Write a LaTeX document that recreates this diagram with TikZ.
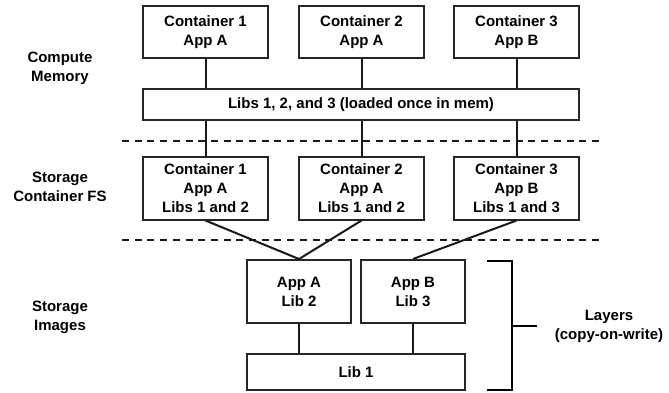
\documentclass[tikz,border=0pt]{standalone}
\usepackage{fontspec}
\setmainfont{Liberation Sans}
\begin{document}
\begin{tikzpicture}[x=1pt,y=-1pt,
  every node/.style={font=\bfseries\fontsize{15}{19}\selectfont, align=center, inner sep=0pt},
  box/.style={draw=black!85, line width=2pt, fill=white},
  wire/.style={draw=black!90, line width=2pt},
  divider/.style={draw=black!90, line width=2pt, dash pattern=on 7pt off 5.7pt},
  brace/.style={draw=black, line width=2pt}]
\useasboundingbox (0,0) rectangle (669,392);

% compute layer: running containers
\node[box, minimum width=125pt, minimum height=52pt] (c1) at (205.5,32) {Container 1\\App A};
\node[box, minimum width=125pt, minimum height=52pt] (c2) at (361.5,32) {Container 2\\App A};
\node[box, minimum width=125pt, minimum height=52pt] (c3) at (516.5,32) {Container 3\\App B};
\node[box, minimum width=436pt, minimum height=31pt] (libs) at (361,104.5) {Libs 1, 2, and 3 (loaded once in mem)};

% container file systems
\node[box, minimum width=125pt, minimum height=62.5pt] (f1) at (205.5,188.25) {Container 1\\App A\\Libs 1 and 2};
\node[box, minimum width=125pt, minimum height=62.5pt] (f2) at (361.5,188.25) {Container 2\\App A\\Libs 1 and 2};
\node[box, minimum width=125pt, minimum height=62.5pt] (f3) at (516.5,188.25) {Container 3\\App B\\Libs 1 and 3};

% image layers
\node[box, minimum width=104pt, minimum height=63pt] (la) at (299,291.5) {App A\\Lib 2};
\node[box, minimum width=104pt, minimum height=63pt] (lb) at (413,291.5) {App B\\Lib 3};
\node[box, minimum width=218pt, minimum height=36pt] (l1) at (356,372) {Lib 1};

% row labels
\node (rowA) at (60,68) {Compute\\Memory};
\node (rowB) at (60,187) {Storage\\Container FS};
\node (rowC) at (60,317) {Storage\\Images};

% dividers between layers
\coordinate (d1a) at (122,141);
\coordinate (d1b) at (600,141);
\coordinate (d2a) at (122,240);
\coordinate (d2b) at (600,240);

% connectors
\draw[wire] (c1.south) -- (c1.south |- libs.north);
\draw[wire] (c2.south) -- (c2.south |- libs.north);
\draw[wire] (c3.south) -- (c3.south |- libs.north);
\draw[wire] (f1.north |- libs.south) -- (f1.north);
\draw[wire] (f2.north |- libs.south) -- (f2.north);
\draw[wire] (f3.north |- libs.south) -- (f3.north);
\draw[wire] (f1.south) -- (la.north);
\draw[wire] (f2.south) -- (la.north);
\draw[wire] (f3.south) -- (lb.north);
\draw[wire] (la.south) -- (la.south |- l1.north);
\draw[wire] (lb.south) -- (lb.south |- l1.north);
\draw[divider] (d1a) -- (d1b);
\draw[divider] (d2a) -- (d2b);

% bracket grouping the image layers
\coordinate (bt) at (487,261);
\coordinate (bb) at (487,390);
\coordinate (bm) at (512,326);
\coordinate (bx) at (537,326);
\draw[brace] (bt) -- (512,261) -- (512,390) -- (bb);
\draw[brace] (bm) -- (bx);
\node (layers) at (609,326) {Layers\\(copy-on-write)};
\end{tikzpicture}
\end{document}
